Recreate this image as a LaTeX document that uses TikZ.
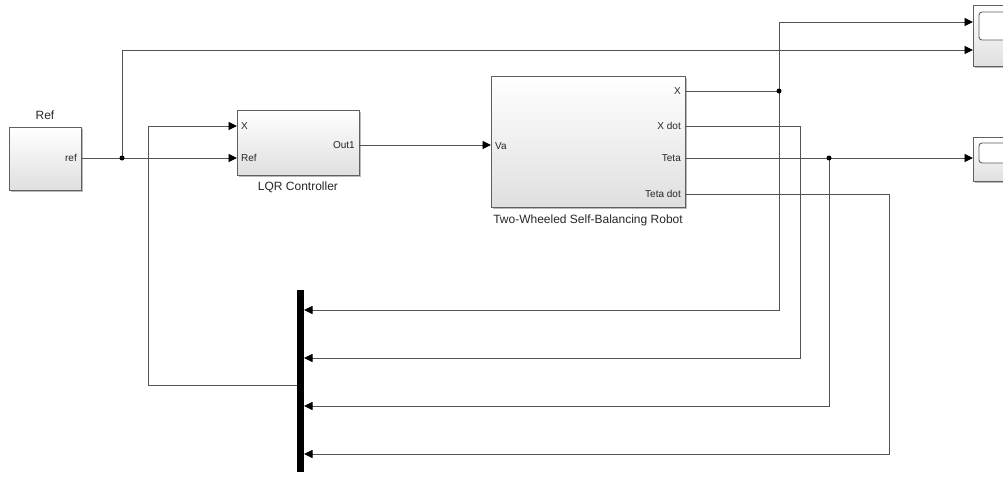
\documentclass[tikz,border=0pt]{standalone}
\usepackage{fontspec}
\setmainfont{Liberation Sans}
\usetikzlibrary{arrows.meta,shadows}
\begin{document}
\begin{tikzpicture}[x=1pt,y=-1pt,
  block/.style={draw=gray!75!black, line width=0.9pt, top color=white, bottom color=gray!25,
    drop shadow={shadow xshift=1.5pt, shadow yshift=-1.5pt, fill=gray!55, opacity=1},
    anchor=north west, inner sep=0pt},
  wire/.style={draw=gray!65!black, line width=0.9pt},
  arr/.style={wire, -{Triangle[length=8.5pt,width=8pt,color=black,fill=black]}},
  port/.style={font=\fontsize{10}{11}\selectfont, inner sep=0pt, text=black!85},
  lbl/.style={font=\fontsize{12}{14}\selectfont, inner sep=0pt, text=black!85},
  jdot/.style={circle, fill=black, inner sep=0pt, minimum size=5pt},
  screen/.style={draw=gray!75!black, line width=0.9pt, rounded corners=3pt, fill=white}
]
\useasboundingbox (0,0) rectangle (1003,477);

% blocks
\node[block, minimum width=72pt, minimum height=63pt] (ref) at (9,127) {};
\node[block, minimum width=122pt, minimum height=65pt] (lqr) at (237,110) {};
\node[block, minimum width=194pt, minimum height=131pt] (robot) at (491,76) {};
\node[block, minimum width=45pt, minimum height=61pt] (scopeA) at (973,5) {};
\node[block, minimum width=45pt, minimum height=44pt] (scopeB) at (973,137) {};
\draw[screen] (979,12) rectangle (1015,40);
\draw[screen] (979,143) rectangle (1015,163);
\node[fill=black, minimum width=7pt, minimum height=182pt, inner sep=0pt, anchor=north west] (mux) at (297,290) {};

% block labels
\node[lbl] (refl) at (45,115) {Ref};
\node[lbl] (lqrl) at (298,187) {LQR Controller};
\node[lbl] (robotl) at (588,220) {Two-Wheeled Self-Balancing Robot};

% port labels
\node[port, anchor=east] at (77,158) {ref};
\node[port, anchor=west] at (241,126) {X};
\node[port, anchor=west] at (241,158) {Ref};
\node[port, anchor=east] at (355,145) {Out1};
\node[port, anchor=west] at (495,146) {Va};
\node[port, anchor=east] at (681,91) {X};
\node[port, anchor=east] at (681,126) {X dot};
\node[port, anchor=east] at (681,158) {Teta};
\node[port, anchor=east] at (681,194) {Teta dot};

% port coordinates
\coordinate (refOut) at (81,158);
\coordinate (lqrX) at (237,126);
\coordinate (lqrRef) at (237,158);
\coordinate (lqrOut) at (359,145);
\coordinate (robVa) at (491,145);
\coordinate (robX) at (685,91);
\coordinate (robXd) at (685,126);
\coordinate (robT) at (685,158);
\coordinate (robTd) at (685,194);
\coordinate (scA1) at (973,22);
\coordinate (scA2) at (973,50);
\coordinate (scB1) at (973,158);
\coordinate (mux1) at (304,310);
\coordinate (mux2) at (304,358);
\coordinate (mux3) at (304,406);
\coordinate (mux4) at (304,454);
\coordinate (muxOut) at (297,385);

% junctions
\coordinate (j1) at (122,158);
\coordinate (j2) at (779,91);
\coordinate (j3) at (829,158);

% wires
\draw[wire] (refOut) -- (j1);
\draw[arr] (j1) -- (lqrRef);
\draw[arr] (j1) -- (122,50) -- (scA2);
\draw[arr] (muxOut) -- (148,385) -- (148,126) -- (lqrX);
\draw[arr] (lqrOut) -- (robVa);
\draw[wire] (robX) -- (j2);
\draw[arr] (j2) |- (scA1);
\draw[arr] (j2) |- (mux1);
\draw[arr] (robXd) -- (800,126) |- (mux2);
\draw[wire] (robT) -- (j3);
\draw[arr] (j3) -- (scB1);
\draw[arr] (j3) |- (mux3);
\draw[arr] (robTd) -- (889,194) |- (mux4);

\node[jdot] at (j1) {};
\node[jdot] at (j2) {};
\node[jdot] at (j3) {};
\end{tikzpicture}
\end{document}
